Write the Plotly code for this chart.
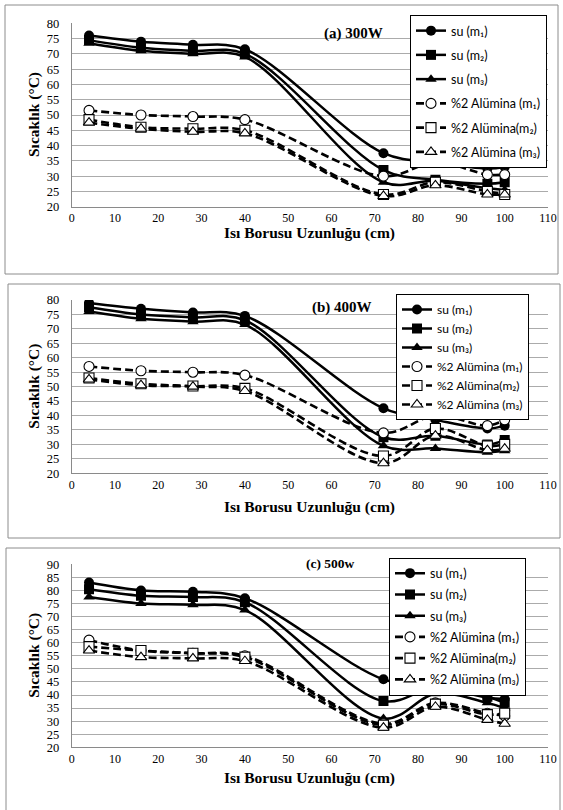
import plotly.graph_objects as go

W, H = 563, 810

# ---------------- data ----------------
x_cm = [4, 16, 28, 40, 72, 84, 96, 100]
series_names = ["su (m\u2081)", "su (m\u2082)", "su (m\u2083)",
                "%2 Al\u00fcmina (m\u2081)", "%2 Al\u00fcmina(m\u2082)", "%2 Al\u00fcmina (m\u2083)"]

# (a) 300W
su_m1_300 = [76, 74, 73, 71.5, 37.5, 34.5, 32.5, 33]
su_m2_300 = [74.5, 72, 71, 70, 32, 28.8, 27.5, 28]
su_m3_300 = [73.5, 71, 70, 69, 28, 28.5, 26, 25.5]
al_m1_300 = [51.5, 50, 49.5, 48.5, 30, 34.5, 30.5, 30.5]
al_m2_300 = [48.5, 46, 45.5, 45, 24, 28, 25, 24]
al_m3_300 = [47.5, 45.5, 44.5, 44, 23.5, 27, 24, 24]

# (b) 400W
su_m1_400 = [79, 77, 75.7, 74.5, 42.5, 38.5, 35.5, 36.5]
su_m2_400 = [77.5, 75, 74, 73, 32.5, 33, 30, 31.5]
su_m3_400 = [76, 73.5, 72.5, 71.5, 29.5, 28.6, 27.3, 27.8]
al_m1_400 = [57, 55.5, 55, 54, 34, 40, 36.5, 38.5]
al_m2_400 = [53, 51, 50.2, 49.4, 26, 35.5, 29.5, 30]
al_m3_400 = [52.5, 50.5, 50, 48.5, 23.5, 33, 28, 28.5]

# (c) 500W
su_m1_500 = [83, 80, 79.5, 77, 46, 43.5, 39, 38.5]
su_m2_500 = [80.5, 78, 77.5, 75.5, 37.7, 43, 39.3, 37]
su_m3_500 = [77.5, 75, 74.5, 72.5, 31, 40.5, 37, 35]
al_m1_500 = [61, 57, 56, 55, 29, 37, 33, 32]
al_m2_500 = [58.5, 57, 56, 54.5, 28.5, 36.5, 32.5, 33]
al_m3_500 = [57, 54.5, 54, 53, 27.5, 35.5, 30.5, 29]

panel_titles = ["(a) 300W", "(b) 400W", "(c) 500w"]
x_ticks = [0, 10, 20, 30, 40, 50, 60, 70, 80, 90, 100, 110]
y_ranges = [[20, 80], [20, 80], [20, 90]]

panels = [
    [su_m1_300, su_m2_300, su_m3_300, al_m1_300, al_m2_300, al_m3_300],
    [su_m1_400, su_m2_400, su_m3_400, al_m1_400, al_m2_400, al_m3_400],
    [su_m1_500, su_m2_500, su_m3_500, al_m1_500, al_m2_500, al_m3_500],
]

# ---------------- layout helpers (pixels -> paper) ----------------
def px(xp):
    return xp / W

def py(yp):
    return 1 - yp / H

plot_left, plot_right = 71.7, 548
plot_tb = [(23.3, 206.7), (300, 473.3), (564.3, 747.3)]
legend_pos = [(410, 15), (396, 294), (389, 557.5)]
legend_gap = [5, 0, 2]
legend_font = [12.5, 12, 12.5]
title_pos = [(353, 33), (342, 308), (330, 563)]
xtitle_y = [233, 507, 778]
borders = [(5, 5, 558, 274), (8, 284, 560, 538), (6, 548, 560, 812)]

symbols = ["circle", "square", "triangle-up", "circle", "square", "triangle-up"]

fig = go.Figure()

for p, data in enumerate(panels):
    sfx = "" if p == 0 else str(p + 1)
    leg = "legend" + sfx
    for i, (name, vals) in enumerate(zip(series_names, data)):
        solid = i < 3
        fig.add_trace(go.Scatter(
            x=x_cm, y=vals, name=name,
            mode="lines+markers",
            xaxis="x" + sfx, yaxis="y" + sfx,
            legend=leg, legendgroup=f"g{p}_{i}",
            line=dict(color="black", width=2.5 if solid else 2.6,
                      shape="spline", smoothing=1.0,
                      dash="solid" if solid else "8px,4px"),
            marker=dict(symbol=symbols[i], size=10,
                        color="black" if solid else "white",
                        line=dict(color="black", width=0 if solid else 1.1)),
        ))

    top, bot = plot_tb[p]
    fig.layout["xaxis" + sfx] = dict(
        domain=[px(plot_left), px(plot_right)],
        anchor="y" + sfx, range=[0, 110], tickvals=x_ticks,
        showgrid=False, zeroline=False, showline=True,
        linecolor="#8a8a8a", linewidth=1, ticks="",
        ticklabelstandoff=0, automargin=False,
        tickfont=dict(family="Liberation Serif", size=12, color="black"),
    )
    fig.layout["yaxis" + sfx] = dict(
        domain=[py(bot), py(top)],
        anchor="x" + sfx, range=y_ranges[p], dtick=5,
        showgrid=True, gridcolor="#ababab", gridwidth=1,
        zeroline=False, showline=True, linecolor="#8a8a8a", linewidth=1,
        ticks="", ticklabelstandoff=9, automargin=False,
        tickfont=dict(family="Liberation Serif", size=12.5, color="black"),
    )
    lx, ly = legend_pos[p]
    fig.layout[leg] = dict(
        x=px(lx), y=py(ly), xanchor="left", yanchor="top",
        bgcolor="white", bordercolor="black", borderwidth=1,
        font=dict(family="Lato", size=legend_font[p], color="black"),
        traceorder="grouped", tracegroupgap=legend_gap[p],
        itemwidth=30,
    )

    # panel title
    tx, ty = title_pos[p]
    fig.add_annotation(x=px(tx), y=py(ty), xref="paper", yref="paper",
                       text=f"<b>{panel_titles[p]}</b>", showarrow=False,
                       xanchor="center", yanchor="middle",
                       font=dict(family="Liberation Serif", size=15 if p < 2 else 13.5,
                                 color="black"))
    # axis titles
    fig.add_annotation(x=px((plot_left + plot_right) / 2), y=py(xtitle_y[p]),
                       xref="paper", yref="paper",
                       text="<b>Is\u0131 Borusu Uzunlu\u011fu (cm)</b>", showarrow=False,
                       xanchor="center", yanchor="middle",
                       font=dict(family="Liberation Serif", size=15.5, color="black"))
    fig.add_annotation(x=px(34), y=py((top + bot) / 2),
                       xref="paper", yref="paper", textangle=-90,
                       text="<b>S\u0131cakl\u0131k (\u00b0C)</b>", showarrow=False,
                       xanchor="center", yanchor="middle",
                       font=dict(family="Liberation Serif", size=15.5, color="black"))
    # panel border
    x0, y0, x1, y1 = borders[p]
    fig.add_shape(type="rect", xref="paper", yref="paper",
                  x0=px(x0), x1=px(x1), y0=py(y1), y1=py(y0),
                  line=dict(color="#8c8c8c", width=1), fillcolor="rgba(0,0,0,0)",
                  layer="below")

fig.update_layout(
    width=W, height=H,
    margin=dict(l=0, r=0, t=0, b=0, autoexpand=False),
    paper_bgcolor="white", plot_bgcolor="white",
    showlegend=True,
)

fig.write_html("out.html")
